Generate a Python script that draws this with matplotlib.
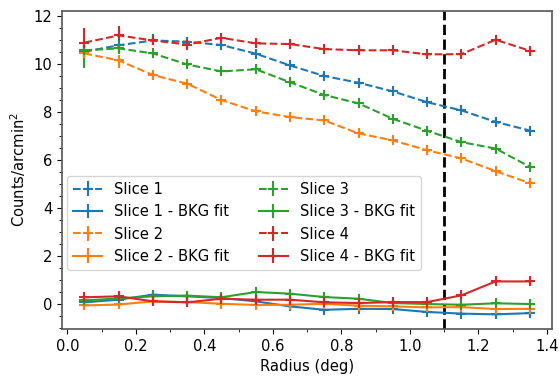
import matplotlib
matplotlib.use("Agg")
import matplotlib.pyplot as plt
from matplotlib.ticker import MultipleLocator
import numpy as np

radius = [0.05, 0.15, 0.25, 0.35, 0.45, 0.55, 0.65, 0.75, 0.85, 0.95, 1.05, 1.15, 1.25, 1.35]

slice1 = [10.50, 10.77, 10.97, 10.92, 10.78, 10.42, 9.93, 9.49, 9.21, 8.85, 8.40, 8.06, 7.58, 7.22]
slice2 = [10.43, 10.14, 9.53, 9.17, 8.49, 8.02, 7.78, 7.64, 7.10, 6.81, 6.40, 6.06, 5.53, 5.03]
slice3 = [10.56, 10.64, 10.43, 9.97, 9.68, 9.77, 9.23, 8.70, 8.35, 7.71, 7.21, 6.74, 6.47, 5.71]
slice4 = [10.88, 11.18, 10.97, 10.80, 11.08, 10.85, 10.82, 10.61, 10.56, 10.56, 10.39, 10.40, 11.00, 10.54]

slice1_bkg = [0.07, 0.18, 0.39, 0.32, 0.25, 0.11, -0.10, -0.24, -0.20, -0.21, -0.33, -0.40, -0.43, -0.38]
slice2_bkg = [-0.06, -0.02, 0.11, 0.08, 0.01, -0.04, -0.03, 0.01, -0.07, -0.10, -0.14, -0.13, -0.21, -0.20]
slice3_bkg = [0.15, 0.23, 0.32, 0.35, 0.28, 0.50, 0.43, 0.29, 0.22, 0.04, 0.00, -0.03, 0.03, 0.00]
slice4_bkg = [0.28, 0.32, 0.11, 0.07, 0.22, 0.18, 0.18, 0.07, 0.04, 0.08, 0.08, 0.36, 0.94, 0.94]

err1_lo = [0.15, 0.15, 0.2, 0.2, 0.18, 0.15, 0.15, 0.15, 0.15, 0.15, 0.15, 0.15, 0.15, 0.15]
err1_hi = [0.15, 0.15, 0.25, 0.2, 0.18, 0.15, 0.15, 0.15, 0.15, 0.15, 0.15, 0.15, 0.15, 0.15]
err2_lo = [0.55, 0.3, 0.2, 0.15, 0.15, 0.15, 0.15, 0.15, 0.15, 0.15, 0.15, 0.15, 0.15, 0.15]
err2_hi = [0.05, 0.15, 0.15, 0.15, 0.15, 0.15, 0.15, 0.15, 0.15, 0.15, 0.15, 0.15, 0.15, 0.15]
err3_lo = [0.72, 0.25, 0.15, 0.15, 0.15, 0.15, 0.15, 0.15, 0.15, 0.15, 0.15, 0.15, 0.15, 0.15]
err3_hi = [0.10, 0.15, 0.15, 0.15, 0.15, 0.15, 0.15, 0.15, 0.15, 0.15, 0.15, 0.15, 0.15, 0.15]
err4_lo = [0.60, 0.10, 0.15, 0.2, 0.15, 0.15, 0.15, 0.15, 0.15, 0.15, 0.15, 0.15, 0.15, 0.15]
err4_hi = [0.62, 0.40, 0.15, 0.2, 0.15, 0.15, 0.15, 0.15, 0.15, 0.15, 0.15, 0.15, 0.15, 0.15]

colors = ["#1f77b4", "#ff7f0e", "#2ca02c", "#d62728"]
labels = ["Slice 1", "Slice 2", "Slice 3", "Slice 4"]

plt.rcParams['font.family'] = ['DejaVu Sans']
plt.rcParams['font.size'] = 10.6

fig = plt.figure(figsize=(5.6, 3.76), dpi=100)
ax = fig.add_axes([0.111, 0.125, 0.875, 0.846])

profiles = [slice1, slice2, slice3, slice4]
bkgs = [slice1_bkg, slice2_bkg, slice3_bkg, slice4_bkg]
errs = [(err1_lo, err1_hi), (err2_lo, err2_hi), (err3_lo, err3_hi), (err4_lo, err4_hi)]

handles = []
for prof, bkg, (elo, ehi), c, lab in zip(profiles, bkgs, errs, colors, labels):
    h1 = ax.errorbar(radius, prof, yerr=[elo, ehi], fmt='+--', color=c, lw=1.5,
                     ms=7, mew=1.5, elinewidth=1.5, capsize=0, label=lab)
    h2 = ax.errorbar(radius, bkg, yerr=[0.12] * len(radius), fmt='+-', color=c, lw=1.5,
                     ms=7, mew=1.5, elinewidth=1.5, capsize=0, label=lab + " - BKG fit")
    handles += [h1, h2]

ax.axvline(1.1, color='black', ls='--', lw=2)

ax.set_xlim(-0.015, 1.415)
ax.set_ylim(-1.04, 12.2)
ax.xaxis.set_major_locator(MultipleLocator(0.2))
ax.xaxis.set_minor_locator(MultipleLocator(0.1))
ax.yaxis.set_major_locator(MultipleLocator(2))
ax.yaxis.set_minor_locator(MultipleLocator(0.5))
ax.set_xlabel("Radius (deg)")
ax.set_ylabel("Counts/arcmin$^2$")
for s in ax.spines.values():
    s.set_color('#555555')
    s.set_linewidth(1.2)

ax.legend(handles=handles, ncol=2, loc='upper left', bbox_to_anchor=(0.01, 0.481),
          borderaxespad=0, fontsize=10.6)

fig.savefig("out.png", dpi=100)
